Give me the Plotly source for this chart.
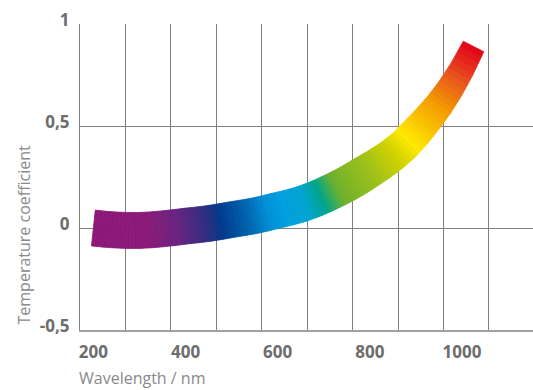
import numpy as np
import plotly.graph_objects as go

# Data (centre line of the band)
wavelength = [200, 225, 250, 275, 300, 325, 350, 375, 400, 425, 450, 475,
              500, 525, 550, 575, 600, 625, 650, 675, 700, 725, 750, 775,
              800, 825, 850, 875, 900, 925, 950, 975, 1000, 1025]
coefficient = [0.000, -0.006, -0.010, -0.012, -0.012, -0.009, -0.004, 0.002,
               0.009, 0.015, 0.022, 0.031, 0.041, 0.050, 0.060, 0.073,
               0.087, 0.100, 0.116, 0.136, 0.160, 0.187, 0.216, 0.249,
               0.284, 0.320, 0.360, 0.408, 0.468, 0.533, 0.603, 0.685,
               0.780, 0.890]

x_ticks = [200, 400, 600, 800, 1000]
y_ticks = [-0.5, 0, 0.5, 1]
y_tick_labels = ["-0,5", "0", "0,5", "1"]

# colour stops along the band
stop_nm = [200, 320, 380, 430, 460, 478, 530, 580, 615, 660, 695, 730,
           800, 850, 885, 950, 990, 1025]
stop_colors = ["#8e1679", "#8a1a7a", "#6a2280", "#3e2a80", "#1b3283", "#003a8c",
               "#0060ac", "#0090d6", "#009fdf", "#00a4cf", "#00a48a", "#6db02c",
               "#9dc017", "#cdd100", "#ffe800", "#f39a00", "#e8501e", "#e2001a"]

W, H = 533, 390
margin = dict(l=80, r=0, t=24, b=60)
x_range = [171, 1154]
y_range = [-0.5, 1.0]

sx = (W - margin["l"] - margin["r"]) / (x_range[1] - x_range[0])
sy = (H - margin["t"] - margin["b"]) / (y_range[1] - y_range[0])


def hex_rgb(h):
    return [int(h[i:i + 2], 16) for i in (1, 3, 5)]


stop_rgb = np.array([hex_rgb(c) for c in stop_colors], dtype=float)


def band_color(nm):
    r, g, b = (np.interp(nm, stop_nm, stop_rgb[:, k]) for k in range(3))
    return f"rgb({r:.0f},{g:.0f},{b:.0f})"


# band geometry in pixel space, so the thickness is constant on screen
x = np.array(wavelength, dtype=float)
y = np.array(coefficient, dtype=float)
X = (x - x_range[0]) * sx
Y = (y - y_range[0]) * sy
tx, ty = np.gradient(X), np.gradient(Y)
norm = np.hypot(tx, ty)
nx, ny = -ty / norm, tx / norm
half = np.interp(x, [200, 780, 900, 1025], [36, 35.5, 32, 23]) / 2

ux, uy = X + nx * half, Y + ny * half
lx, ly = X - nx * half, Y - ny * half


def to_data(px, py):
    return px / sx + x_range[0], py / sy + y_range[0]


fig = go.Figure()

steps = 4
for i in range(len(x) - 1):
    for k in range(steps):
        t0, t1 = k / steps, (k + 1) / steps
        a = lambda arr, t: arr[i] + (arr[i + 1] - arr[i]) * t
        px = [a(ux, t0), a(ux, t1), a(lx, t1), a(lx, t0), a(ux, t0)]
        py = [a(uy, t0), a(uy, t1), a(ly, t1), a(ly, t0), a(uy, t0)]
        dx, dy = to_data(np.array(px), np.array(py))
        c = band_color(a(x, (t0 + t1) / 2))
        fig.add_trace(go.Scatter(x=dx, y=dy, mode="lines", fill="toself",
                                 fillcolor=c, line=dict(color=c, width=0.8),
                                 hoverinfo="skip", showlegend=False))

tick_font = dict(family="Open Sans", size=17, color="#6d6d6d", weight="bold")
grid_color = "#808080"

fig.update_layout(
    width=W, height=H,
    margin=margin,
    plot_bgcolor="white",
    paper_bgcolor="white",
    xaxis=dict(range=x_range, tickvals=x_ticks, showgrid=False, zeroline=False,
               showline=True, linecolor="#a0a0a0", linewidth=2, ticks="",
               tickfont=tick_font, ticklabelstandoff=6,
               minor=dict(tick0=x_range[0], dtick=98.6, showgrid=True,
                          gridcolor=grid_color, gridwidth=1, ticks="")),
    yaxis=dict(range=y_range, tickvals=y_ticks, ticktext=y_tick_labels,
               showgrid=True, gridcolor=grid_color, gridwidth=1, zeroline=False,
               showline=True, linecolor=grid_color, linewidth=1, ticks="",
               tickfont=tick_font, ticklabelshift=-4, ticklabelstandoff=6),
    annotations=[
        dict(text="Wavelength / nm", xref="paper", yref="paper",
             x=-2 / 453, y=-48 / 306, xanchor="left", yanchor="middle",
             showarrow=False, borderpad=0,
             font=dict(family="Open Sans", size=16, color="#8a8a8a")),
        dict(text="Temperature coefficient", xref="paper", yref="paper",
             x=-56.5 / 453, y=3 / 306, xanchor="center", yanchor="bottom",
             textangle=-90, showarrow=False,
             font=dict(family="Open Sans", size=16, color="#8a8a8a")),
    ],
)

fig.write_html(
    "out.html",
    config={"displayModeBar": False},
    post_script="document.body.style.margin='0';document.body.style.overflow='hidden';",
)
